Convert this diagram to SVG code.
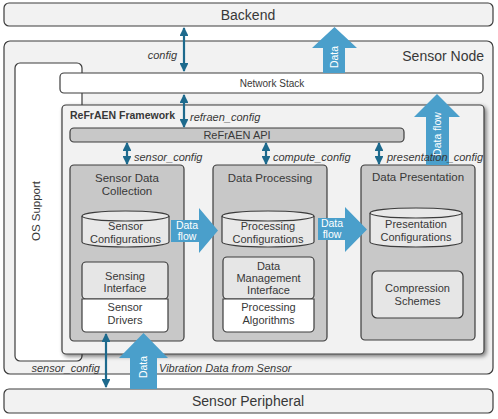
<svg xmlns="http://www.w3.org/2000/svg" width="498" height="419" viewBox="0 0 498 419">
<style>
text{font-family:"Liberation Sans",Arial,sans-serif;fill:#383838}
.frame{fill:#f2f2f2;stroke:#3c3c3c;stroke-width:1.2}
.white{fill:#ffffff;stroke:#3c3c3c;stroke-width:1.2}
.mod{fill:#c8c8c8;stroke:#3c3c3c;stroke-width:1.2}
.cyl{fill:#e8e8e8;stroke:#3c3c3c;stroke-width:1.2}
.light{fill:#e6e6e6;stroke:#3c3c3c;stroke-width:1.2}
.big{font-size:14px}
.t11{font-size:11.5px;text-anchor:middle}
.t10{font-size:11px;text-anchor:middle}
.lbl{font-size:11px;font-style:italic}
.ctrl{stroke:#1d6a8d;stroke-width:2.2;fill:none;marker-start:url(#ah);marker-end:url(#ah)}
.fat{fill:#4a9fcb}
.wt{fill:#ffffff;font-size:10.5px;text-anchor:middle}
</style>
<defs>
<marker id="ah" viewBox="0 0 10 10" refX="9" refY="5" markerWidth="4" markerHeight="4" orient="auto-start-reverse">
<path d="M0,0 L10,5 L0,10 z" fill="#1d6a8d"/>
</marker>
<filter id="sh" x="-5%" y="-5%" width="110%" height="110%">
<feGaussianBlur in="SourceAlpha" stdDeviation="2"/>
<feOffset dx="2" dy="2"/>
<feComponentTransfer><feFuncA type="linear" slope="0.5"/></feComponentTransfer>
<feMerge><feMergeNode/><feMergeNode in="SourceGraphic"/></feMerge>
</filter>
</defs>

<g id="backend">
<rect class="frame" x="4" y="3" width="489" height="23" rx="5"/>
<text class="big" x="248" y="20" text-anchor="middle">Backend</text>
</g>

<g id="sensor-node">
<rect class="frame" x="4" y="41" width="489" height="333" rx="6"/>
<text class="big" x="484" y="61" text-anchor="end">Sensor Node</text>
</g>

<g id="os-support">
<rect class="white" x="15" y="63" width="67" height="298" rx="5"/>
<text x="40" y="211" font-size="11.5" text-anchor="middle" transform="rotate(-90 40 211)">OS Support</text>
</g>

<g id="network-stack">
<rect class="white" x="60" y="73" width="423" height="20" rx="4"/>
<text x="272" y="87" font-size="10" text-anchor="middle">Network Stack</text>
</g>

<g id="refraen-framework">
<rect x="62" y="105" width="422" height="249" rx="4" fill="#f2f2f2" stroke="#3c3c3c" stroke-width="1.2" filter="url(#sh)"/>
<text x="70" y="119" font-size="10.5" font-weight="bold">ReFrAEN Framework</text>
</g>

<g id="refraen-api">
<rect class="mod" x="70" y="128" width="334" height="14" rx="4"/>
<text x="237" y="139" font-size="11" text-anchor="middle">ReFrAEN API</text>
</g>

<g id="sensor-data-collection">
<rect class="mod" x="70" y="165" width="114" height="176" rx="4"/>
<text class="t11" x="127" y="182">Sensor Data</text>
<text class="t11" x="127" y="195">Collection</text>
</g>

<g id="sensor-configurations">
<path class="cyl" d="M82,216 A43.5,5 0 0 1 169,216 L169,242 A43.5,5 0 0 1 82,242 Z"/>
<path d="M82,216 A43.5,5 0 0 0 169,216" fill="none" stroke="#3c3c3c" stroke-width="1.2"/>
<text class="t10" x="125.5" y="230">Sensor</text>
<text class="t10" x="125.5" y="243">Configurations</text>
</g>

<g id="sensing-interface">
<rect class="light" x="82" y="262" width="86" height="37" rx="4"/>
<text class="t10" x="125" y="280">Sensing</text>
<text class="t10" x="125" y="292">Interface</text>
</g>
<g id="sensor-drivers">
<path class="white" d="M82,299 H168 V328 A4,4 0 0 1 164,332 H86 A4,4 0 0 1 82,328 Z"/>
<text class="t10" x="125" y="311">Sensor</text>
<text class="t10" x="125" y="324">Drivers</text>
</g>

<g id="data-processing">
<rect class="mod" x="213" y="165" width="114" height="176" rx="4"/>
<text class="t11" x="270" y="182">Data Processing</text>
</g>

<g id="processing-configurations">
<path class="cyl" d="M222,216 A46,5 0 0 1 314,216 L314,242 A46,5 0 0 1 222,242 Z"/>
<path d="M222,216 A46,5 0 0 0 314,216" fill="none" stroke="#3c3c3c" stroke-width="1.2"/>
<text class="t10" x="268" y="230">Processing</text>
<text class="t10" x="268" y="243">Configurations</text>
</g>

<g id="data-management-interface">
<rect class="light" x="223" y="257" width="91" height="42" rx="4"/>
<text class="t10" x="268.5" y="270">Data</text>
<text class="t10" x="268.5" y="282">Management</text>
<text class="t10" x="268.5" y="294">Interface</text>
</g>
<g id="processing-algorithms">
<path class="white" d="M223,299 H314 V328 A4,4 0 0 1 310,332 H227 A4,4 0 0 1 223,328 Z"/>
<text class="t10" x="268.5" y="311">Processing</text>
<text class="t10" x="268.5" y="324">Algorithms</text>
</g>

<g id="data-presentation">
<rect class="mod" x="361" y="165" width="114" height="175" rx="4"/>
<text class="t11" x="418" y="181">Data Presentation</text>
</g>

<g id="presentation-configurations">
<path class="cyl" d="M370,213 A46,5 0 0 1 462,213 L462,242 A46,5 0 0 1 370,242 Z"/>
<path d="M370,213 A46,5 0 0 0 462,213" fill="none" stroke="#3c3c3c" stroke-width="1.2"/>
<text class="t10" x="416" y="228">Presentation</text>
<text class="t10" x="416" y="241">Configurations</text>
</g>

<g id="compression-schemes">
<rect class="light" x="372" y="271" width="91" height="47" rx="5"/>
<text class="t10" x="417.5" y="292">Compression</text>
<text class="t10" x="417.5" y="305">Schemes</text>
</g>

<g id="sensor-peripheral">
<rect class="frame" x="4" y="389" width="489" height="24" rx="5"/>
<text class="big" x="248" y="406" text-anchor="middle">Sensor Peripheral</text>
</g>

<g id="connectors">
<polygon class="fat" points="323,73 323,48 312,48 334.5,27 357,48 345,48 345,73"/>
<text class="wt" transform="translate(338 57) rotate(-90)" x="0" y="0">Data</text>

<polygon class="fat" points="426,165 426,117 414,117 437,94 460,117 449,117 449,165"/>
<text class="wt" transform="translate(441 134) rotate(-90)" x="0" y="0">Data flow</text>

<polygon class="fat" points="130,389 130,358 119,358 143.5,333 168,358 157,358 157,389"/>
<text class="wt" transform="translate(147 367) rotate(-90)" x="0" y="0">Data</text>

<polygon class="fat" points="171,220 199,220 199,208 218,230.5 199,253 199,242 171,242"/>
<text class="wt" x="187" y="229">Data</text>
<text class="wt" x="187" y="240">flow</text>

<polygon class="fat" points="318,218 345,218 345,207 367,229.5 345,252 345,240 318,240"/>
<text class="wt" x="332" y="227">Data</text>
<text class="wt" x="332" y="238">flow</text>

<line class="ctrl" x1="184" y1="28" x2="184" y2="71"/>
<text class="lbl" x="177" y="59" text-anchor="end">config</text>
<line class="ctrl" x1="184" y1="95" x2="184" y2="127"/>
<text class="lbl" x="190" y="121">refraen_config</text>
<line class="ctrl" x1="127" y1="143" x2="127" y2="164"/>
<text class="lbl" x="134" y="161">sensor_config</text>
<line class="ctrl" x1="266" y1="143" x2="266" y2="164"/>
<text class="lbl" x="273" y="161">compute_config</text>
<line class="ctrl" x1="379" y1="143" x2="379" y2="164"/>
<text class="lbl" x="387" y="161">presentation_config</text>
<line class="ctrl" x1="106" y1="334" x2="106" y2="387"/>
<text class="lbl" x="100" y="372" text-anchor="end">sensor_config</text>
<text class="lbl" x="159" y="372">Vibration Data from Sensor</text>
</g>
</svg>
